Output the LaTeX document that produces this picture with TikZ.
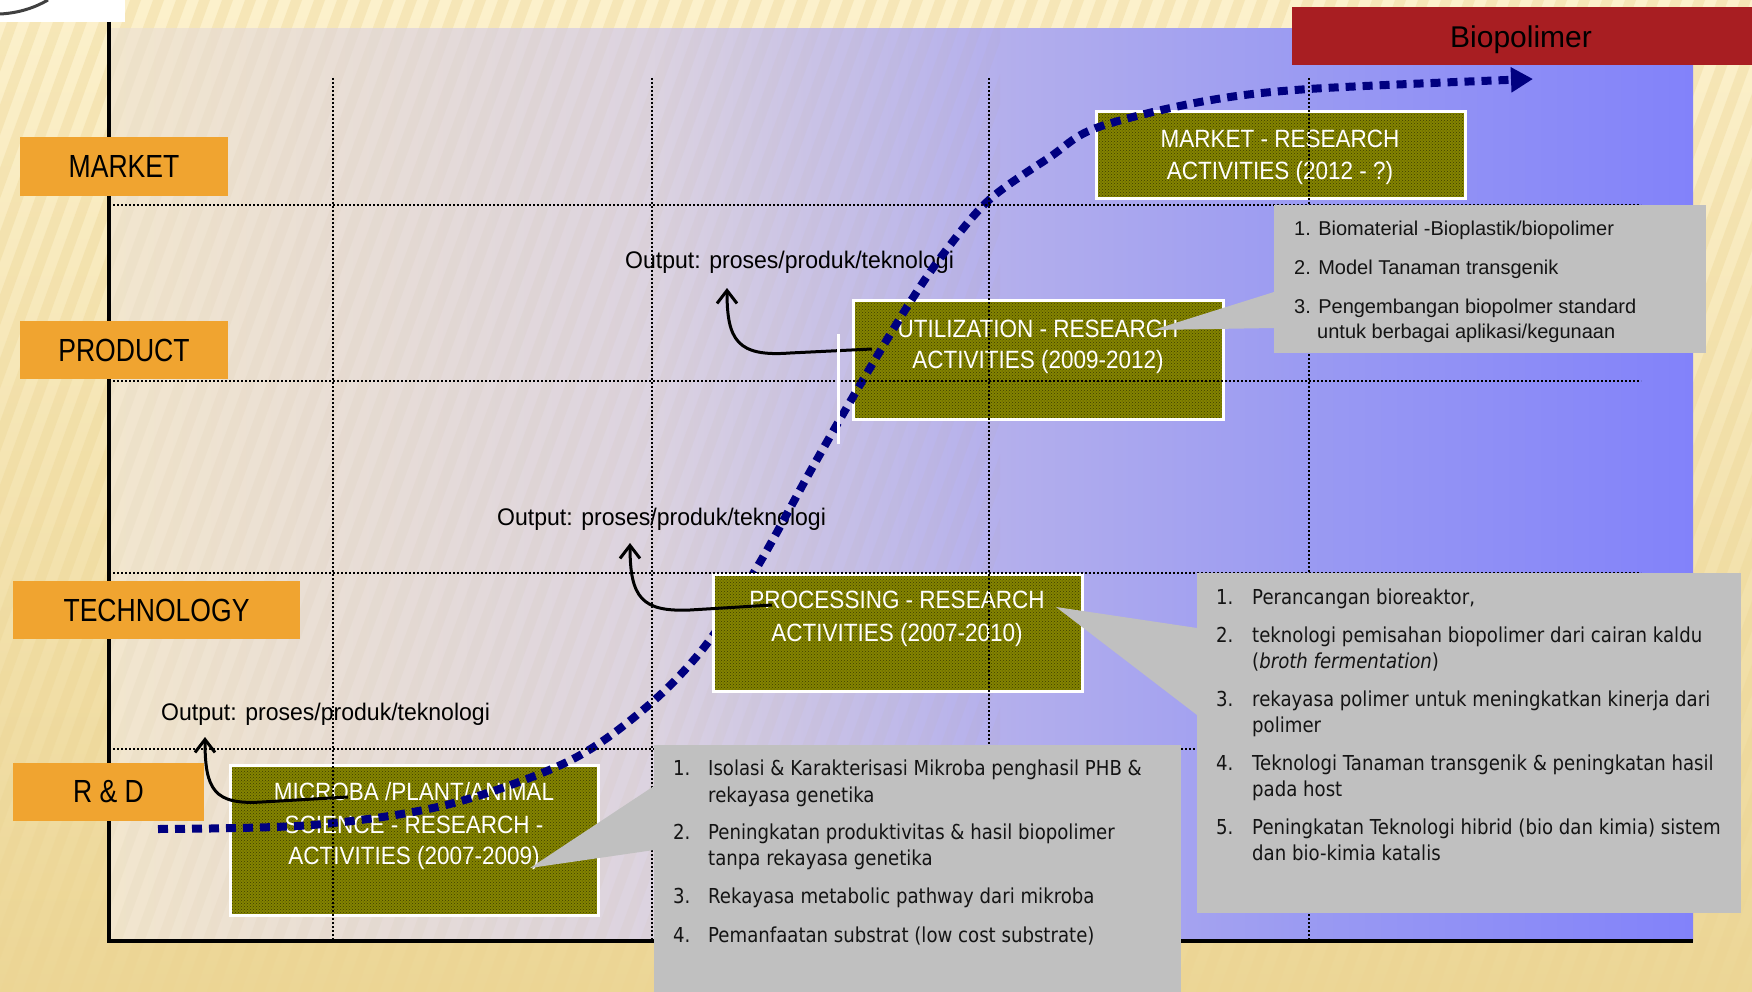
\documentclass[tikz,border=0pt]{standalone}
\usepackage{fontspec}
\setmainfont{Liberation Sans}
\newfontfamily\capsf[FakeStretch=0.83]{Liberation Sans}
\newfontfamily\boxf[FakeStretch=0.9]{Liberation Sans}
\newfontfamily\outf[FakeStretch=0.96]{Liberation Sans}
\newfontfamily\tahf[FakeStretch=0.88]{DejaVu Sans}
\usetikzlibrary{arrows.meta,patterns}
\definecolor{bgtop}{RGB}{252,241,204}
\definecolor{bgbot}{RGB}{236,214,150}
\definecolor{stripe}{RGB}{236,212,146}
\definecolor{pc1}{RGB}{242,230,206}
\definecolor{pc2}{RGB}{220,211,224}
\definecolor{pc3}{RGB}{181,176,236}
\definecolor{pc4}{RGB}{154,154,242}
\definecolor{pc5}{RGB}{130,130,250}
\definecolor{orangel}{RGB}{240,164,48}
\definecolor{redbox}{RGB}{168,30,34}
\definecolor{olivebox}{RGB}{132,132,0}
\definecolor{callg}{RGB}{192,192,192}
\definecolor{navyc}{RGB}{0,0,128}
\definecolor{txtc}{RGB}{20,20,20}
\begin{document}
\begin{tikzpicture}[x=1pt,y=-1pt,
  lab/.style={fill=orangel, inner sep=0, font={\capsf\fontsize{32}{38}\selectfont}, text=black},
  oliv/.style={draw=white, line width=3pt, preaction={fill=olivebox}, pattern=crosshatch dots, pattern color=black!55!olivebox, inner sep=0},
  oltxt/.style={anchor=base, inner sep=0, text=white, font={\boxf\fontsize{25}{30}\selectfont}},
  outtxt/.style={anchor=base west, inner sep=0, text=black, font={\outf\fontsize{24}{28}\selectfont}},
  c1txt/.style={anchor=base west, inner sep=0, text=txtc, font={\fontsize{20}{24}\selectfont}},
  c2txt/.style={anchor=base west, inner sep=0, text=txtc, font={\tahf\fontsize{20.6}{24}\selectfont}},
  griddot/.style={draw=black, line width=2.2pt, dash pattern=on 2pt off 2pt},
  blk/.style={draw=black, line width=3pt, -{Straight Barb[length=13pt,width=20pt]}},
  bluecurve/.style={draw=navyc, line width=8pt, dash pattern=on 10pt off 7pt, -{Triangle[length=22pt,width=24pt]}}
]
\useasboundingbox (0,0) rectangle (1752,992);
% background
\shade[top color=bgtop, bottom color=bgbot] (0,0) rectangle (1752,992);
\foreach \i in {-18,...,80} {
  \fill[stripe, opacity=0.35] (\i*23,992) -- ++(11,0) -- ++(360,-992) -- ++(-11,0) -- cycle;
}
% panel
\shade[left color=pc1, right color=pc2] (111,29) rectangle (651,941);
\shade[left color=pc2, right color=pc3] (650,29) rectangle (990,941);
\shade[left color=pc3, right color=pc4] (989,29) rectangle (1310,941);
\shade[left color=pc4, right color=pc5] (1309,29) rectangle (1693,941);
\begin{scope}
  \clip (111,29) rectangle (1000,941);
  \foreach \i in {-18,...,50} {
    \fill[stripe!80!black, opacity=0.06] (\i*23,992) -- ++(11,0) -- ++(360,-992) -- ++(-11,0) -- cycle;
  }
\end{scope}
% logo fragment
\fill[white] (0,0) rectangle (125,22);
\draw[line width=3pt, black!75] (0,14) .. controls (20,13) and (36,7) .. (48,0);

% olive boxes (below curve)
\node[oliv, minimum width=369, minimum height=87] (mres) at (1280.5,155.5) {};
\node[oliv, minimum width=370, minimum height=119] (util) at (1038,359.5) {};
\node[oliv, minimum width=368, minimum height=150] (micro) at (414,840) {};
\node[oltxt] (mres1) at (1280,148) {MARKET - RESEARCH};
\node[oltxt] (mres2) at (1280,180) {ACTIVITIES (2012 - ?)};
\node[oltxt] (util1) at (1038,337) {UTILIZATION - RESEARCH};
\node[oltxt] (util2) at (1038,368) {ACTIVITIES (2009-2012)};
\node[oltxt] (micro1) at (414,800) {MICROBA /PLANT/ANIMAL};
\node[oltxt] (micro2) at (414,833) {SCIENCE - RESEARCH -};
\node[oltxt] (micro3) at (414,864) {ACTIVITIES (2007-2009)};

% output texts
\node[outtxt] (out1) at (625,269) {Output: proses/produk/teknologi};
\node[outtxt] (out2) at (497,525) {Output: proses/produk/teknologi};
\node[outtxt] (out3) at (161,720) {Output: proses/produk/teknologi};

% blue S-curve
\coordinate (s0) at (158,829);
\coordinate (s1) at (1533,79);
\draw[bluecurve] plot[smooth, tension=0.55] coordinates {(s0) (312,825) (446,805) (567,762) (643,710) (702,650) (756,569) (811,470) (857,390) (907,307) (944,253) (989,200) (1050,157) (1096,128) (1200,102) (1309,89) (s1)};

% processing box (above curve)
\node[oliv, minimum width=369, minimum height=117] (proc) at (897.5,632.5) {};
\node[oltxt] (proc1) at (897,608) {PROCESSING - RESEARCH};
\node[oltxt] (proc2) at (897,641) {ACTIVITIES (2007-2010)};

% grid
\foreach \x in {333,652,989,1309} { \draw[griddot] (\x,78) -- (\x,941); }
\foreach \y in {205,381,573,749} { \draw[griddot] (113,\y) -- (1641,\y); }

% black output arrows
\coordinate (u0) at (872,349); \coordinate (u1) at (727,288);
\draw[blk] (u0) -- (790,353) .. controls (737,357) and (727,340) .. (u1);
\coordinate (p0) at (772,605); \coordinate (p1) at (630,543);
\draw[blk] (p0) -- (690,610) .. controls (642,612) and (630,598) .. (p1);
\coordinate (m0) at (348,797); \coordinate (m1) at (205,737);
\draw[blk] (m0) -- (262,802) .. controls (214,805) and (205,790) .. (m1);
\draw[white, line width=3pt] (838,334) -- (838,444);

% axes
\draw[line width=4.5pt, line join=miter] (109,22) -- (109,941) -- (1693,941);

% row labels
\node[lab, minimum width=208, minimum height=59] (market) at (124,166.5) {MARKET};
\node[lab, minimum width=208, minimum height=58] (product) at (124,350) {PRODUCT};
\node[lab, minimum width=287, minimum height=58] (technology) at (156.5,610) {TECHNOLOGY};
\node[lab, minimum width=191, minimum height=58] (rd) at (108.5,792) {R \& D};

% Biopolimer
\node[fill=redbox, inner sep=0, minimum width=460, minimum height=58] (bio) at (1522,36) {};
\node[anchor=base, inner sep=0, font={\fontsize{30}{34}\selectfont}] (biot) at (1521,48) {Biopolimer};

% callout 1 (top right)
\fill[callg] (1274,205) rectangle (1706,353);
\fill[callg] (1274,292) -- (1153,330) -- (1274,328) -- cycle;
\node[c1txt] (ca1) at (1294,236) {1. Biomaterial -Bioplastik/biopolimer};
\node[c1txt] (ca2) at (1294,274) {2. Model Tanaman transgenik};
\node[c1txt] (ca3) at (1294,313) {3. Pengembangan biopolmer standard};
\node[c1txt] (ca4) at (1317,338) {untuk berbagai aplikasi/kegunaan};

% callout 2 (bottom middle)
\fill[callg] (654,745) rectangle (1181,992);
\fill[callg] (654,786) -- (530,868) -- (654,850) -- cycle;
\node[c2txt] (cb1) at (673,775) {\makebox[35pt][l]{1.}Isolasi \& Karakterisasi Mikroba penghasil PHB \&};
\node[c2txt] (cb2) at (708,802) {rekayasa genetika};
\node[c2txt] (cb3) at (673,839) {\makebox[35pt][l]{2.}Peningkatan produktivitas \& hasil biopolimer};
\node[c2txt] (cb4) at (708,865) {tanpa rekayasa genetika};
\node[c2txt] (cb5) at (673,903) {\makebox[35pt][l]{3.}Rekayasa metabolic pathway dari mikroba};
\node[c2txt] (cb6) at (673,942) {\makebox[35pt][l]{4.}Pemanfaatan substrat (low cost substrate)};

% callout 3 (right)
\fill[callg] (1197,573) rectangle (1741,913);
\fill[callg] (1197,628) -- (1056,607) -- (1197,715) -- cycle;
\node[c2txt] (cc1) at (1216,604) {\makebox[36pt][l]{1.}Perancangan bioreaktor,};
\node[c2txt] (cc2) at (1216,642) {\makebox[36pt][l]{2.}teknologi pemisahan biopolimer dari cairan kaldu};
\node[c2txt] (cc3) at (1252,668) {(\textit{broth fermentation})};
\node[c2txt] (cc4) at (1216,706) {\makebox[36pt][l]{3.}rekayasa polimer untuk meningkatkan kinerja dari};
\node[c2txt] (cc5) at (1252,732) {polimer};
\node[c2txt] (cc6) at (1216,770) {\makebox[36pt][l]{4.}Teknologi Tanaman transgenik \& peningkatan hasil};
\node[c2txt] (cc7) at (1252,796) {pada host};
\node[c2txt] (cc8) at (1216,834) {\makebox[36pt][l]{5.}Peningkatan Teknologi hibrid (bio dan kimia) sistem};
\node[c2txt] (cc9) at (1252,860) {dan bio-kimia katalis};
\end{tikzpicture}
\end{document}
